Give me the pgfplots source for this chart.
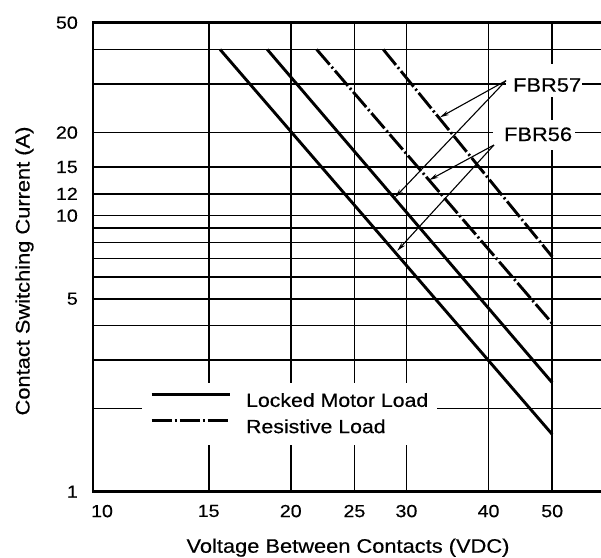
\documentclass[border=0pt]{standalone}
\usepackage{fontspec}
\setmainfont[FakeStretch=1.12, FakeBold=0.4]{Liberation Sans}
\usepackage{pgfplots}
\pgfplotsset{compat=1.18}
\usetikzlibrary{arrows.meta}
\begin{document}
\begin{tikzpicture}
\useasboundingbox (0bp,0bp) rectangle (601bp,558bp);
\begin{axis}[
  at={(93bp,66.3bp)}, anchor=south west,
  scale only axis, width=510bp, height=469bp,
  xmode=log, ymode=log,
  xmin=10, xmax=59.75, ymin=1, ymax=50,
  xtick={10,15,20,25,30,40,50},
  xticklabels={\hspace*{18bp}10,15,20,25,30,40,50},
  ytick={1,2,3,4,5,6,7,8,9,10,12,15,20,30,40,50},
  yticklabels={1,,,,5,,,,,10,12,15,20,,,50},
  major tick length=0pt, minor tick length=0pt,
  grid=major,
  grid style={black, line width=1.7bp},
  axis line style={black, line width=2.9bp},
  /pgf/number format/assume math mode=true,
  tick label style={font=\fontsize{17.5bp}{20bp}\selectfont, inner sep=0pt},
  xticklabel style={yshift=-13bp},
  yticklabel style={xshift=-15bp},
  xlabel={Voltage Between Contacts (VDC)},
  ylabel={Contact Switching Current (A)},
  label style={font=\fontsize{19.5bp}{22bp}\selectfont},
  xlabel style={at={(rel axis cs:0.5,-0.1301)}, anchor=base},
  ylabel style={at={(rel axis cs:-0.1245,0.4706)}, anchor=base},
  legend style={at={(rel axis cs:0.0961,0.1000)}, anchor=south west,
     draw=none, fill=white, inner xsep=8bp, inner ysep=9bp, row sep=9bp,
     font=\fontsize{19bp}{22bp}\selectfont,
     nodes={inner sep=1bp},
     /tikz/every odd column/.append style={column sep=14bp}},
  legend cell align=left,
  legend image code/.code={\draw[#1] (5bp,6.5bp) -- (83bp,6.5bp);},
]
\addplot[black, line width=2.9bp] coordinates {(15.61,40) (50,1.614)};
\addlegendentry{Locked Motor Load}
\addplot[black, line width=2.9bp, dash pattern=on 20bp off 3bp on 2bp off 3bp] coordinates {(21.90,40) (50,4.074)};
\addlegendentry{Resistive Load}
\addplot[black, line width=2.9bp, forget plot] coordinates {(18.42,40) (50,2.483)};
\addplot[black, line width=2.9bp, dash pattern=on 20bp off 3bp on 2bp off 3bp, forget plot] coordinates {(27.66,40) (50,7.10)};

\node[fill=white, anchor=base west, inner xsep=0pt, inner ysep=0pt, text height=28bp, text depth=5bp, font=\fontsize{19.5bp}{22bp}\selectfont] at (axis cs:42.52,28.12) {\hspace*{7bp}FBR57\hspace*{1bp}};
\node[fill=white, anchor=base west, inner xsep=0pt, inner ysep=0pt, text height=21bp, text depth=9bp, font=\fontsize{19.5bp}{22bp}\selectfont] at (axis cs:40.62,18.64) {\hspace*{11bp}FBR56\hspace*{3bp}};

\draw[black, line width=1.1bp, -{Stealth[length=9bp,width=4.5bp]}] (axis cs:42.52,30.83) -- (axis cs:33.75,22.72);
\draw[black, line width=1.1bp, -{Stealth[length=9bp,width=4.5bp]}] (axis cs:42.52,30.83) -- (axis cs:28.82,11.65);
\draw[black, line width=1.1bp, -{Stealth[length=9bp,width=4.5bp]}] (axis cs:40.77,18.03) -- (axis cs:32.50,13.46);
\draw[black, line width=1.1bp, -{Stealth[length=9bp,width=4.5bp]}] (axis cs:40.77,18.03) -- (axis cs:29.05,7.46);
\end{axis}
\end{tikzpicture}
\end{document}
